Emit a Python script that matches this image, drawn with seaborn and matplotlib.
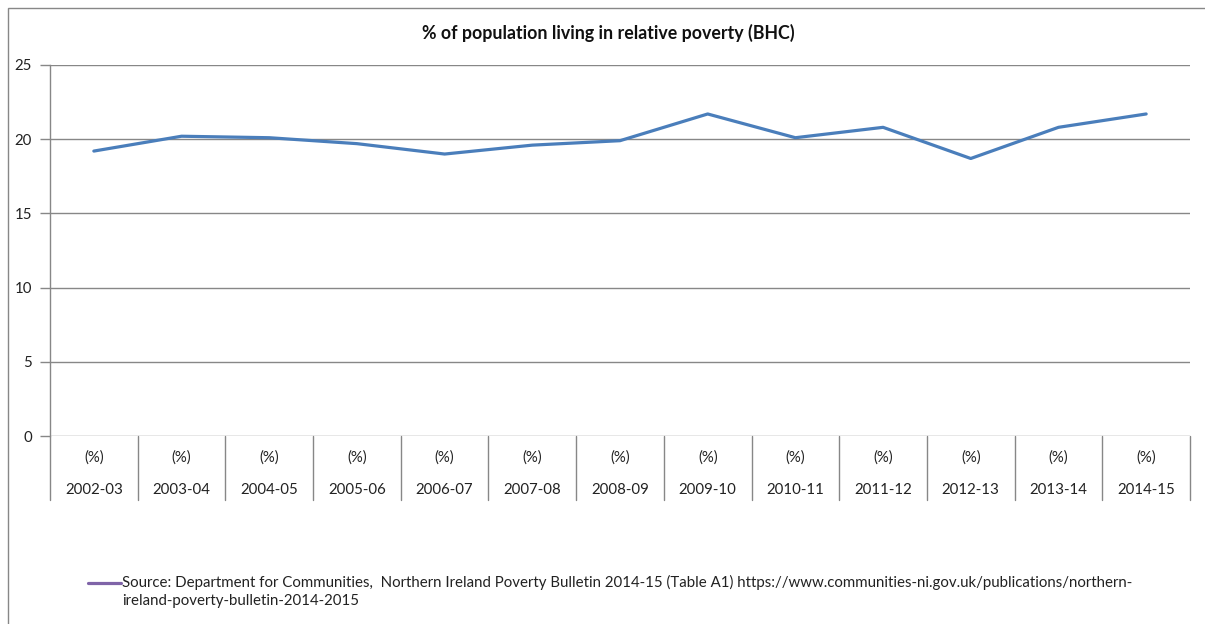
import matplotlib
matplotlib.use("Agg")
import matplotlib.pyplot as plt
import seaborn as sns
import pandas as pd
from matplotlib.patches import Rectangle
from matplotlib.lines import Line2D

years = ["2002-03", "2003-04", "2004-05", "2005-06", "2006-07", "2007-08", "2008-09",
         "2009-10", "2010-11", "2011-12", "2012-13", "2013-14", "2014-15"]
poverty_pct = [19.2, 20.2, 20.1, 19.7, 19.0, 19.6, 19.9, 21.7, 20.1, 20.8, 18.7, 20.8, 21.7]
unit_label = "(%)"
yticks = [0, 5, 10, 15, 20, 25]
title = "% of population living in relative poverty (BHC)"
source_text = ("Source: Department for Communities,  Northern Ireland Poverty Bulletin 2014-15 (Table A1) "
               "https://www.communities-ni.gov.uk/publications/northern-\nireland-poverty-bulletin-2014-2015")

sns.set_theme(style="white")
plt.rcParams["font.family"] = ["Lato", "DejaVu Sans"]

W, H = 1205, 624
fig = plt.figure(figsize=(W / 100, H / 100), dpi=100)
ax = fig.add_axes([50 / W, 1 - 436 / H, (1190 - 50) / W, (436 - 65) / H])

df = pd.DataFrame({"idx": range(len(years)), "value": poverty_pct})
sns.lineplot(data=df, x="idx", y="value", ax=ax, color="#4A7EBB", linewidth=2.3)

ax.set_xlim(-0.5, len(years) - 0.5)
ax.set_ylim(0, 25)
ax.set_yticks(yticks)
ax.set_yticklabels([str(t) for t in yticks], fontsize=10.8, color="#222222")
ax.tick_params(axis="y", length=7, width=1, color="#878787", pad=6, left=True)
ax.set_xticks([])
ax.set_xlabel("")
ax.set_ylabel("")
ax.yaxis.grid(True, color="#878787", linewidth=1)
ax.set_axisbelow(True)
for s in ["top", "right", "bottom"]:
    ax.spines[s].set_visible(False)
ax.spines["left"].set_color("#878787")
ax.spines["left"].set_linewidth(1)

# category table below the axis
tr = ax.get_xaxis_transform()
depth = (500 - 436) / (436 - 65)
for b in range(len(years) + 1):
    ax.plot([b - 0.5, b - 0.5], [0, -depth], transform=tr, color="#878787",
            linewidth=1, clip_on=False)
for i, yr in enumerate(years):
    ax.text(i, -(458 - 436) / (436 - 65), unit_label, transform=tr, ha="center",
            va="center", fontsize=10.8, color="#222222")
    ax.text(i, -(490 - 436) / (436 - 65), yr, transform=tr, ha="center",
            va="center", fontsize=10.8, color="#222222")

fig.text(608 / W, 1 - 33 / H, title, ha="center", va="center", fontsize=12.8,
         fontweight="bold", color="#111111")

# chart area border
fig.add_artist(Rectangle((8 / W, -0.1), 1.2, 1 - 8 / H + 0.1, transform=fig.transFigure,
                         fill=False, edgecolor="#878787", linewidth=1))

# legend entry
fig.add_artist(Line2D([88 / W, 121 / W], [1 - 583 / H, 1 - 583 / H], transform=fig.transFigure,
                      color="#7F64A8", linewidth=2.3))
fig.text(122 / W, 1 - 575 / H, source_text, ha="left", va="top", fontsize=10.8,
         color="#222222", linespacing=1.4)

fig.savefig("out.png", dpi=100, facecolor="white")
